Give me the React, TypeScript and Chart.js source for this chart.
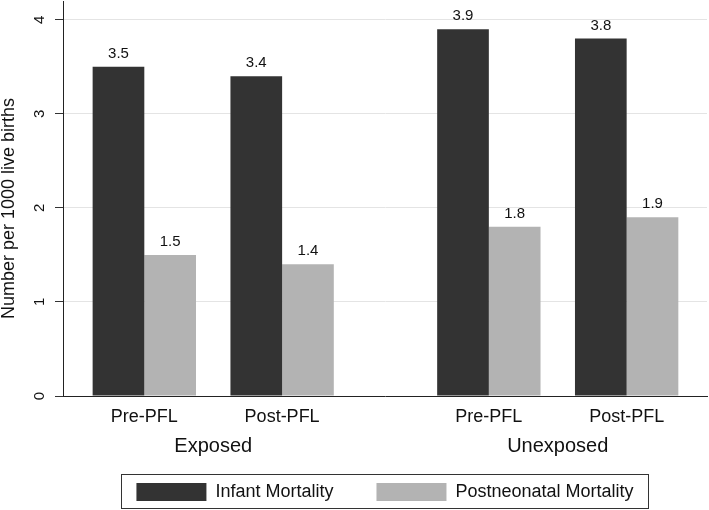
import React, { useEffect, useRef } from "react";
import { Chart, registerables } from "chart.js";

Chart.register(...registerables);

// ---- data ----
const groups = ["Exposed", "Unexposed"];
const periods = ["Pre-PFL", "Post-PFL"];
const seriesNames = ["Infant Mortality", "Postneonatal Mortality"];
const infantMortality = [3.5, 3.4, 3.9, 3.8];
const postneonatalMortality = [1.5, 1.4, 1.8, 1.9];
const yTickValues = [0, 1, 2, 3, 4];
const yTitle = "Number per 1000 live births";

// ---- layout helpers (category slots on a linear axis) ----
const GROUP_GAP = 0.5;
const slot = (g: number, p: number) => g * (periods.length + GROUP_GAP) + p;
const positions = groups.flatMap((_, g) => periods.map((_, p) => slot(g, p)));
const tickLabels = groups.flatMap(() => periods);
const groupCenters = groups.map((_, g) => slot(g, (periods.length - 1) / 2));
const X_MIN = positions[0] - 0.59;
const X_MAX = positions[positions.length - 1] + 0.583;
const Y_MAX = 4.2;

const FONT = '"Liberation Sans", Arial, Helvetica, sans-serif';
const TEXT = "#111111";
const DARK = "#333333";
const LIGHT = "#b3b3b3";

const valueLabels = {
  id: "valueLabels",
  afterDatasetsDraw(chart: any) {
    const ctx = chart.ctx;
    ctx.save();
    ctx.font = `15px ${FONT}`;
    ctx.fillStyle = TEXT;
    ctx.textAlign = "center";
    ctx.textBaseline = "alphabetic";
    chart.data.datasets.forEach((ds: any, i: number) => {
      const meta = chart.getDatasetMeta(i);
      meta.data.forEach((el: any, j: number) => {
        const v = ds.data[j].y;
        ctx.fillText(v.toFixed(1), el.x, el.y - 9);
      });
    });
    ctx.restore();
  },
};

// y-axis title, centred slightly below the middle of the plot as in the reference
const yAxisTitle = {
  id: "yAxisTitle",
  afterDraw(chart: any) {
    const { ctx, chartArea } = chart;
    ctx.save();
    ctx.font = `18px ${FONT}`;
    ctx.fillStyle = TEXT;
    ctx.textAlign = "center";
    ctx.textBaseline = "middle";
    ctx.translate(9, (chartArea.top + chartArea.bottom) / 2 + 10);
    ctx.rotate(-Math.PI / 2);
    ctx.fillText(yTitle, 0, 0);
    ctx.restore();
  },
};

// pull the legend up into the free space under the group labels, and frame it
const LEGEND_LIFT = 20;
const legendFrame = {
  id: "legendFrame",
  afterLayout(chart: any) {
    const lg = chart.legend;
    if (!lg) return;
    lg.top -= LEGEND_LIFT;
    lg.height += LEGEND_LIFT;
  },
  afterDraw(chart: any) {
    const lg = chart.legend;
    if (!lg || !lg.legendHitBoxes || !lg.legendHitBoxes.length) return;
    const hb = lg.legendHitBoxes;
    const l = Math.min(...hb.map((h: any) => h.left)) - 15;
    const r = Math.max(...hb.map((h: any) => h.left + h.width)) + 15;
    const t = Math.min(...hb.map((h: any) => h.top)) - 9;
    const b = Math.max(...hb.map((h: any) => h.top + h.height)) + 7;
    const ctx = chart.ctx;
    ctx.save();
    ctx.strokeStyle = "#333333";
    ctx.lineWidth = 1;
    ctx.strokeRect(Math.round(l) + 0.5, Math.round(t) + 0.5, Math.round(r - l), Math.round(b - t));
    ctx.restore();
  },
};

export default function App() {
  const canvasRef = useRef<HTMLCanvasElement | null>(null);

  useEffect(() => {
    if (!canvasRef.current) return;
    Chart.defaults.font.family = FONT;
    Chart.defaults.color = TEXT;

    const chart = new Chart(canvasRef.current, {
      type: "bar",
      data: {
        datasets: [
          {
            label: seriesNames[0],
            data: positions.map((x, i) => ({ x, y: infantMortality[i] })),
            backgroundColor: DARK,
            borderWidth: 0,
          },
          {
            label: seriesNames[1],
            data: positions.map((x, i) => ({ x, y: postneonatalMortality[i] })),
            backgroundColor: LIGHT,
            borderWidth: 0,
          },
        ],
      },
      options: {
        responsive: false,
        animation: false,
        layout: { padding: { top: 1, right: 2, left: 0, bottom: 0 } },
        datasets: { bar: { categoryPercentage: 0.75, barPercentage: 1 } },
        plugins: {
          tooltip: { enabled: false },
          legend: {
            position: "bottom",
            fullSize: false,
            maxHeight: 50,
            labels: {
              boxWidth: 70,
              boxHeight: 18,
              padding: 43,
              color: TEXT,
              font: { size: 18, family: FONT },
            },
          },
        },
        scales: {
          x: {
            type: "linear",
            position: "bottom",
            offset: false,
            min: X_MIN,
            max: X_MAX,
            grid: { display: false, drawTicks: false, offset: false },
            border: { display: true, color: "#222222", width: 1 },
            ticks: {
              autoSkip: false,
              minRotation: 0,
              maxRotation: 0,
              padding: 10,
              color: TEXT,
              font: { size: 18, family: FONT },
              callback: (_v: any, i: number) => tickLabels[i] ?? "",
            },
            afterBuildTicks: (s: any) => {
              s.ticks = positions.map((v) => ({ value: v }));
            },
            afterFit: (s: any) => {
              s.height = 30;
            },
          },
          x2: {
            type: "linear",
            position: "bottom",
            offset: false,
            weight: 1,
            min: X_MIN,
            max: X_MAX,
            grid: { display: false, drawTicks: false, offset: false },
            border: { display: false },
            ticks: {
              autoSkip: false,
              minRotation: 0,
              maxRotation: 0,
              padding: 8,
              color: TEXT,
              font: { size: 20, family: FONT },
              callback: (_v: any, i: number) => groups[i] ?? "",
            },
            afterBuildTicks: (s: any) => {
              s.ticks = groupCenters.map((v) => ({ value: v }));
            },
            afterFit: (s: any) => {
              s.height = 34;
            },
          },
          y: {
            type: "linear",
            min: 0,
            max: Y_MAX,
            afterBuildTicks: (s: any) => {
              s.ticks = yTickValues.map((v) => ({ value: v }));
            },
            ticks: {
              minRotation: 90,
              maxRotation: 90,
              crossAlign: "center",
              padding: 11,
              color: TEXT,
              font: { size: 15, family: FONT },
              callback: (v: any) => String(v),
            },
            grid: {
              color: (ctx: any) => (ctx.tick && ctx.tick.value === 0 ? "rgba(0,0,0,0)" : "#e4e4e4"),
              tickColor: "#333333",
              tickLength: 8,
              lineWidth: 1,
            },
            border: { color: "#222222", width: 1 },
            title: { display: false },
            afterFit: (s: any) => {
              s.width = 63;
              s.paddingTop = 0;
              s.paddingBottom = 0;
            },
          },
        },
      } as any,
      plugins: [valueLabels, yAxisTitle, legendFrame],
    });

    return () => chart.destroy();
  }, []);

  return (
    <div style={{ position: "absolute", left: 0, top: 0, width: 709, height: 510, background: "#ffffff" }}>
      <canvas ref={canvasRef} width={709} height={510} style={{ display: "block" }} />
    </div>
  );
}
